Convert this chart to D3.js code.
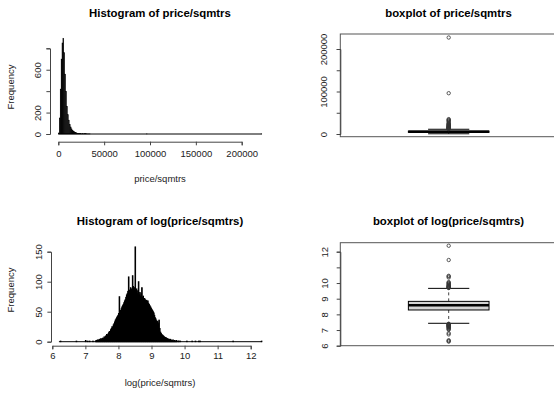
<!DOCTYPE html>
<html><head><meta charset="utf-8">
<script src="https://cdn.jsdelivr.net/npm/d3@7"></script>
<style>
body{margin:0;background:#fff}
svg{display:block;font-family:"Liberation Sans",Arial,sans-serif}
</style>
</head><body>
<script>
// ---------------- DATA ----------------
// Histogram of price/sqmtrs : bins of width 1000 starting at 0
const priceBinWidth = 1000;
const priceBinStart = 0;
const priceCounts = [10,150,420,700,850,895,760,560,400,260,180,130,90,66,48,36,28,22,17,12,9,7,5,4,3,1,2,1,2,1,2,1,1,1,1];
const priceExtraBins = [96000, 221000];        // isolated bins with count 1
const priceHistRange = [0, 222000];
const priceXTicks = [0, 50000, 100000, 150000, 200000];
const priceYTicks = [0, 200, 400, 600, 800];
const priceYLabels = ["0", "200", "", "600", ""];

// Histogram of log(price/sqmtrs) : bins of width 0.02 starting at 7.30
const logBinWidth = 0.02;
const logBinStart = 7.30;
const logCounts = [
  1,2,1,3,2,3,4,3,5,4,
  5,6,5,8,7,9,10,12,11,13,
  15,17,16,20,22,25,24,28,30,33,
  36,38,40,42,44,47,75,50,52,55,
  58,60,62,65,68,70,74,78,80,84,
  108,86,82,90,88,84,110,92,86,90,
  158,82,88,80,85,100,78,82,76,80,
  90,74,76,70,72,70,68,69,66,68,
  64,62,60,58,56,54,52,50,48,44,
  40,38,35,34,33,30,36,22,16,14,
  12,11,10,9,8,7,7,6,5,5,
  4,4,3,4,3,2,2,3,1,2,
  1,1,2,1,0,1,1,0,1,0
];
const logExtraBins = [6.24, 6.72, 7.00, 7.06, 7.12, 7.22, 10.06, 10.22, 10.32, 10.42, 10.46, 11.46, 12.32];
const logExtraCounts = [1, 1, 2, 1, 1, 1, 1, 1, 1, 1, 1, 1, 1];
const logHistRange = [6.2, 12.34];
const logXTicks = [6, 7, 8, 9, 10, 11, 12];
const logYTicks = [0, 50, 100, 150];
const logYLabels = ["0", "50", "100", "150"];

// Boxplot of price/sqmtrs : [lower whisker, Q1, median, Q3, upper whisker]
const priceBoxStats = [520, 3940, 5320, 6830, 11150];
const priceOutliers = [11500,12000,12400,12900,13300,13800,14200,14700,15200,15800,16400,17000,17600,18300,19000,19800,20600,21500,22400,23400,24500,26000,28500,30500,32000,33500,35000,96000,227000];
const priceBoxYTicks = [0, 50000, 100000, 150000, 200000];
const priceBoxYLabels = ["0", "", "100000", "", "200000"];

// Boxplot of log(price/sqmtrs)
const logBoxStats = [7.43, 8.28, 8.58, 8.83, 9.66];
const logOutliers = [9.68,9.70,9.72,9.74,9.76,9.78,9.80,9.83,9.86,9.90,9.94,9.98,10.02,10.06,10.35,10.42,10.46,11.47,12.38,
                     7.40,7.38,7.36,7.34,7.32,7.30,7.28,7.26,7.24,7.22,7.20,7.17,7.14,7.10,7.06,7.02,6.80,6.72,6.35,6.30,6.26];
const logBoxYTicks = [6, 7, 8, 9, 10, 11, 12];
const logBoxYLabels = ["6", "7", "8", "9", "10", "", "12"];

const titles = ["Histogram of price/sqmtrs", "boxplot of price/sqmtrs", "Histogram of log(price/sqmtrs)", "boxplot of log(price/sqmtrs)"];
const xTitles = ["price/sqmtrs", "log(price/sqmtrs)"];
const yTitle = "Frequency";

// ---------------- DRAWING ----------------
const W = 554, H = 397;
const svg = d3.select("body").append("svg").attr("width", W).attr("height", H);
const FS = 9.5, TFS = 11.4;
const AX = "#444", TXT = "#222";
const TICK = 3.6;

function styleAxis(g) {
  g.select(".domain").attr("stroke", AX).attr("stroke-width", 1);
  g.selectAll(".tick line").attr("stroke", AX);
  g.selectAll(".tick text").attr("fill", TXT).attr("font-size", FS).attr("font-family", "Liberation Sans, Arial, sans-serif");
}
function bottomAxis(scale, ticks, y, pad) {
  const g = svg.append("g").attr("transform", `translate(0,${y})`)
    .call(d3.axisBottom(scale).tickValues(ticks).tickFormat(d3.format("d")).tickSizeOuter(0).tickSize(TICK).tickPadding(pad));
  styleAxis(g);
  return g;
}
function leftAxis(scale, ticks, labels, x, off) {
  const g = svg.append("g").attr("transform", `translate(${x},0)`)
    .call(d3.axisLeft(scale).tickValues(ticks).tickFormat((d, i) => labels[i]).tickSizeOuter(0).tickSize(TICK));
  styleAxis(g);
  g.selectAll(".tick text").attr("x", null).attr("dy", null).attr("text-anchor", "middle")
    .attr("transform", `translate(${-off},0) rotate(-90)`);
  return g;
}
function title(text, cx, y) {
  svg.append("text").attr("x", cx).attr("y", y).attr("text-anchor", "middle")
    .attr("font-size", TFS).attr("font-weight", "bold").attr("fill", "#000").text(text);
}
function xlabel(text, cx, y) {
  svg.append("text").attr("x", cx).attr("y", y).attr("text-anchor", "middle")
    .attr("font-size", FS).attr("fill", TXT).text(text);
}
function ylabel(text, x, cy) {
  svg.append("text").attr("transform", `translate(${x},${cy}) rotate(-90)`).attr("text-anchor", "middle")
    .attr("font-size", FS).attr("fill", TXT).text(text);
}
function histogram(xs, ys, bins, range, sw) {
  svg.append("line").attr("x1", xs(range[0])).attr("x2", xs(range[1]))
    .attr("y1", ys(0)).attr("y2", ys(0)).attr("stroke", "#000").attr("stroke-width", 1);
  svg.append("g").selectAll("rect").data(bins.filter(b => b.c > 0)).join("rect")
    .attr("x", b => xs(b.x0)).attr("width", b => xs(b.x0 + b.w) - xs(b.x0))
    .attr("y", b => ys(b.c)).attr("height", b => ys(0) - ys(b.c))
    .attr("fill", "#000").attr("stroke", "#000").attr("stroke-width", sw);
}
function boxplot(xs, ys, stats, outliers, frame) {
  const [lo, q1, med, q3, hi] = stats;
  const cx = xs(1), bw = xs(1.186) - xs(1), sw = xs(1.095) - xs(1);
  svg.append("rect").attr("x", frame[0]).attr("y", frame[1]).attr("width", frame[2] - frame[0]).attr("height", frame[3] - frame[1])
    .attr("fill", "none").attr("stroke", "#555").attr("stroke-width", 1);
  const g = svg.append("g");
  g.append("line").attr("x1", cx).attr("x2", cx).attr("y1", ys(q3)).attr("y2", ys(hi))
    .attr("stroke", "#444").attr("stroke-dasharray", "3,3");
  g.append("line").attr("x1", cx).attr("x2", cx).attr("y1", ys(q1)).attr("y2", ys(lo))
    .attr("stroke", "#444").attr("stroke-dasharray", "3,3");
  [lo, hi].forEach(v => g.append("line").attr("x1", cx - sw).attr("x2", cx + sw).attr("y1", ys(v)).attr("y2", ys(v)).attr("stroke", "#000"));
  g.append("rect").attr("x", cx - bw).attr("width", 2 * bw).attr("y", ys(q3)).attr("height", ys(q1) - ys(q3))
    .attr("fill", "#d3d3d3").attr("stroke", "#000").attr("stroke-width", 1);
  g.append("line").attr("x1", cx - bw).attr("x2", cx + bw).attr("y1", ys(med)).attr("y2", ys(med))
    .attr("stroke", "#000").attr("stroke-width", 2.6);
  g.selectAll("circle").data(outliers).join("circle").attr("cx", cx).attr("cy", d => ys(d)).attr("r", 1.7)
    .attr("fill", "none").attr("stroke", "#333").attr("stroke-width", 0.8);
}

// Panel 1: histogram of price
{
  const xs = d3.scaleLinear().domain([0, 200000]).range([58.3, 241.7]);
  const ys = d3.scaleLinear().domain([0, 800]).range([134, 48.3]);
  const bins = priceCounts.map((c, i) => ({x0: priceBinStart + i * priceBinWidth, w: priceBinWidth, c}))
    .concat(priceExtraBins.map(x0 => ({x0, w: priceBinWidth, c: 1})));
  histogram(xs, ys, bins, priceHistRange, 0.35);
  bottomAxis(xs, priceXTicks, 141.7, 4.5);
  leftAxis(ys, priceYTicks, priceYLabels, 50, 9.5);
  title(titles[0], 160, 17);
  xlabel(xTitles[0], 160, 182);
  ylabel(yTitle, 14, 87);
}
// Panel 3: histogram of log
{
  const xs = d3.scaleLinear().domain([6, 12]).range([52.3, 250.7]);
  const ys = d3.scaleLinear().domain([0, 150]).range([341.7, 251.7]);
  const bins = logCounts.map((c, i) => ({x0: logBinStart + i * logBinWidth, w: logBinWidth, c}))
    .concat(logExtraBins.map((x0, i) => ({x0, w: logBinWidth, c: logExtraCounts[i]})));
  histogram(xs, ys, bins, logHistRange, 0.9);
  bottomAxis(xs, logXTicks, 345.7, 2.5);
  leftAxis(ys, logYTicks, logYLabels, 51, 9.5);
  title(titles[2], 160, 224.5);
  xlabel(xTitles[1], 160, 386);
  ylabel(yTitle, 14, 290);
}
// Panel 2: boxplot of price
{
  const xs = d3.scaleLinear().domain([0.5, 1.5]).range([340.3, 557.1]);
  const ys = d3.scaleLinear().domain([0, 200000]).range([134, 49]);
  boxplot(xs, ys, priceBoxStats, priceOutliers, [340.3, 34, 557.1, 136.7]);
  leftAxis(ys, priceBoxYTicks, priceBoxYLabels, 340.3, 13);
  title(titles[1], 448.5, 17);
}
// Panel 4: boxplot of log
{
  const xs = d3.scaleLinear().domain([0.5, 1.5]).range([340.3, 557.1]);
  const ys = d3.scaleLinear().domain([6, 12]).range([345.7, 251.7]);
  boxplot(xs, ys, logBoxStats, logOutliers, [340.3, 242.7, 557.1, 345.7]);
  leftAxis(ys, logBoxYTicks, logBoxYLabels, 340.3, 12);
  title(titles[3], 448.5, 224.5);
}
</script>
</body></html>
